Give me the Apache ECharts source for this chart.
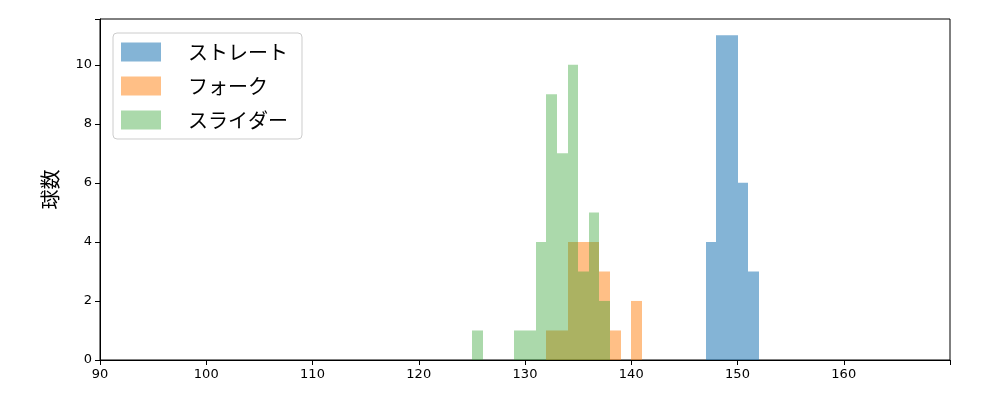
<!DOCTYPE html><html><head><meta charset="utf-8"><script src="https://cdn.jsdelivr.net/npm/echarts@6/dist/echarts.min.js"></script></head><body style="margin:0"><div id="c" style="width:1000px;height:400px"></div><script>
const names=['ストレート','フォーク','スライダー'];
const straightBins=[147,148,149,150,151];const straightCounts=[4,11,11,6,3];
const forkBins=[132,133,134,135,136,137,138,140];const forkCounts=[1,1,4,4,4,3,1,2];
const sliderBins=[125,129,130,131,132,133,134,135,136,137];const sliderCounts=[1,1,1,4,9,7,10,3,5,2];
const colors=['rgba(31,119,180,0.55)','rgba(255,127,14,0.5)','rgba(44,160,44,0.4)'];
function ser(name,bins,counts,i){return{name,type:'custom',itemStyle:{color:colors[i]},data:bins.map((b,j)=>[b,b+1,counts[j]]),
renderItem:(p,api)=>{const a=api.coord([api.value(0),api.value(2)]),b=api.coord([api.value(1),0]);return{type:'rect',shape:{x:Math.round(a[0]),y:a[1],width:Math.round(b[0])-Math.round(a[0]),height:b[1]-a[1]},style:{fill:colors[i]}};},encode:{x:[0,1],y:2}};}
const lab={color:'#000',fontSize:13,fontFamily:'DejaVu Sans'};
const line={show:true,lineStyle:{color:'#000'}};
const tick={show:true,length:5,lineStyle:{color:'#000'}};
const ch=echarts.init(document.getElementById('c'));
ch.setOption({animation:false,grid:{left:100,right:50,top:19,bottom:40,show:true,borderColor:'#000',borderWidth:1},
legend:{left:113,top:33,orient:'vertical',icon:'rect',itemWidth:40,itemHeight:19,itemGap:14,padding:[9,14,9,8],borderColor:'#ccc',borderWidth:1,borderRadius:4,textStyle:{fontSize:20,fontFamily:'Noto Sans CJK JP',color:'#000',padding:[0,0,0,22]},data:names},
xAxis:{type:'value',min:90,max:170,interval:10,axisLine:line,axisTick:tick,splitLine:{show:false},axisLabel:Object.assign({},lab,{formatter:v=>v>=170?'':String(v)})},
yAxis:{type:'value',min:0,max:11.55,interval:2,name:'球数',nameLocation:'middle',nameGap:40,nameTextStyle:{fontSize:20,fontFamily:'Noto Sans CJK JP',color:'#000'},axisLine:line,axisTick:tick,splitLine:{show:false},axisLabel:Object.assign({},lab,{formatter:v=>v%2===0?String(v):''})},
series:[ser(names[0],straightBins,straightCounts,0),ser(names[1],forkBins,forkCounts,1),ser(names[2],sliderBins,sliderCounts,2)]});
</script></body></html>
